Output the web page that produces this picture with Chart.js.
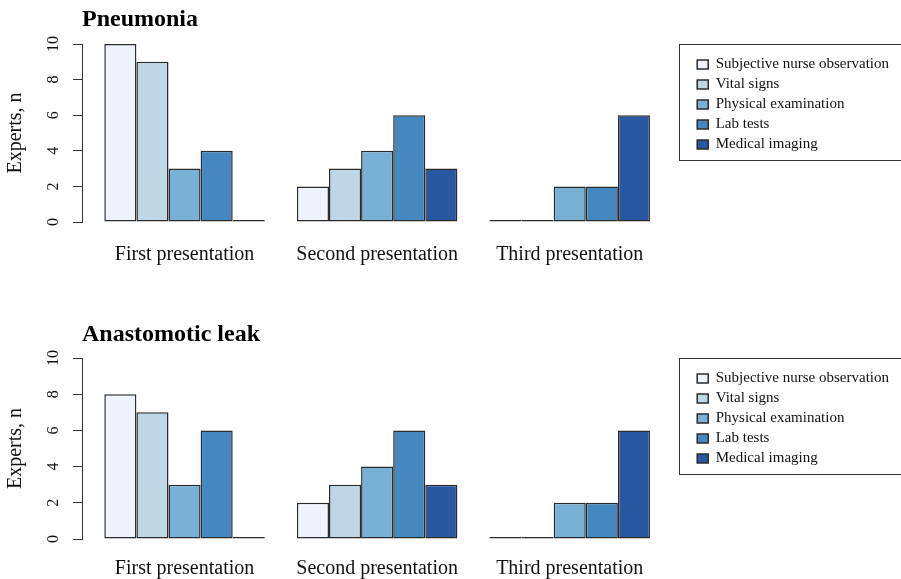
<!DOCTYPE html>
<html>
<head>
<meta charset="utf-8">
<script src="https://cdn.jsdelivr.net/npm/chart.js@4.4.1/dist/chart.umd.min.js"></script>
<style>
  body { margin: 0; background: #fff; }
  #wrap { position: relative; width: 901px; height: 579px; }
  canvas { position: absolute; left: 0; }
</style>
</head>
<body>
<div id="wrap">
  <canvas id="pneumoniaChart" width="901" height="290" style="top:0"></canvas>
  <canvas id="leakChart" width="901" height="289" style="top:290px"></canvas>
</div>
<script>
/**
 * labels and data
 */
var groups  = ["First presentation", "Second presentation", "Third presentation"];
var sources = ["Subjective nurse observation", "Vital signs", "Physical examination", "Lab tests", "Medical imaging"];
var colors  = ["#eff3fb", "#bfd7e5", "#79b0d5", "#4488bf", "#2858a2"];
var yTicks  = [0, 2, 4, 6, 8, 10];

// experts (n) per source, one value per presentation
var pneumoniaSubjective = [10, 2, 0];
var pneumoniaVital      = [9, 3, 0];
var pneumoniaPhysical   = [3, 4, 2];
var pneumoniaLab        = [4, 6, 2];
var pneumoniaImaging    = [0, 3, 6];

var leakSubjective = [8, 2, 0];
var leakVital      = [7, 3, 0];
var leakPhysical   = [3, 4, 2];
var leakLab        = [6, 6, 2];
var leakImaging    = [0, 3, 6];
//

Chart.defaults.font.family = "'Liberation Serif', 'Times New Roman', serif";
Chart.defaults.color = "#111";

// R style box round the legend
var legendFrame = {
  id: "legendFrame",
  afterDraw: function(chart) {
    var lg = chart.legend;
    var ctx = chart.ctx;
    var x = lg.left + 5 - 18;
    ctx.save();
    ctx.strokeStyle = "#333";
    ctx.lineWidth = 1;
    ctx.strokeRect(Math.round(x) + 0.5, Math.round(chart.chartArea.top) + 0.5, chart.width - x + 10, 116);
    ctx.restore();
  }
};

function makeChart(id, title, series, lay) {
  var datasets = [];
  for (var i = 0; i < sources.length; i++) {
    datasets.push({
      label: sources[i],
      data: series[i].map(function(v, j) { return {x: j + 1, y: v}; }),
      backgroundColor: colors[i],
      borderColor: "#2b2b2b",
      borderWidth: 1.5,
      borderSkipped: false,
      minBarLength: 2,   // zero counts still show as a line on the base
      categoryPercentage: 5 / 6,
      barPercentage: 1
    });
  }

  return new Chart(document.getElementById(id), {
    type: "bar",
    data: {datasets: datasets},
    plugins: [legendFrame],
    options: {
      responsive: false,
      animation: false,
      layout: {padding: {left: 0, right: 2, top: 0, bottom: 0}},
      plugins: {
        title: {
          display: true, text: title, align: "start", fullSize: false, color: "#000",
          font: {size: 24, weight: "bold"},
          padding: {top: lay.titleTop, bottom: lay.titleBottom}
        },
        legend: {
          position: "right", align: "start", fullSize: false,
          title: {display: true, text: " ", font: {size: 8, lineHeight: 1}, padding: 0},
          labels: {boxWidth: 11, boxHeight: 9, padding: 5, color: "#111", font: {size: 15}}
        },
        tooltip: {enabled: false}
      },
      scales: {
        x: {
          type: "linear", min: 0.4675, max: 3.636, offset: false,
          grid: {display: false, drawTicks: false},
          border: {display: false},
          afterBuildTicks: function(s) { s.ticks = groups.map(function(g, i) { return {value: i + 1}; }); },
          afterFit: function(s) { s.height = lay.xHeight; },
          ticks: {
            padding: lay.xPad, color: "#111", font: {size: 20}, autoSkip: false, maxRotation: 0,
            callback: function(v) { return groups[v - 1]; }
          }
        },
        y: {
          min: 0, max: 10,
          afterBuildTicks: function(s) { s.ticks = yTicks.map(function(v) { return {value: v}; }); },
          afterFit: function(s) { s.width = 82; },
          grid: {drawOnChartArea: false, tickLength: 9, color: "#333"},
          border: {color: "#333", width: 1},
          ticks: {minRotation: 90, maxRotation: 90, crossAlign: "center", padding: 11, color: "#111", font: {size: 16}},
          title: {display: true, text: "Experts, n", color: "#111", font: {size: 20}, padding: {top: 4, bottom: 4}}
        }
      }
    }
  });
}

makeChart("pneumoniaChart", "Pneumonia",
  [pneumoniaSubjective, pneumoniaVital, pneumoniaPhysical, pneumoniaLab, pneumoniaImaging],
  {titleTop: 5.6, titleBottom: 9.6, xHeight: 68, xPad: 21});

makeChart("leakChart", "Anastomotic leak",
  [leakSubjective, leakVital, leakPhysical, leakLab, leakImaging],
  {titleTop: 30.6, titleBottom: 8.6, xHeight: 40, xPad: 18});
</script>
</body>
</html>
